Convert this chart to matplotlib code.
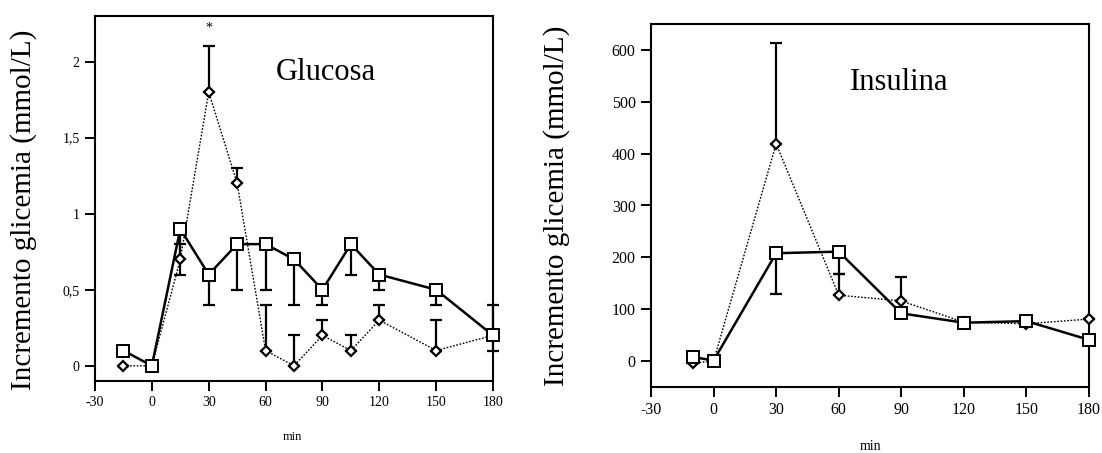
import matplotlib
matplotlib.use("Agg")
import matplotlib.pyplot as plt
from matplotlib.ticker import FuncFormatter

plt.rcParams['font.family'] = ['Liberation Serif', 'DejaVu Serif']
plt.rcParams['axes.unicode_minus'] = False

# Glucosa panel
glu_t = [-15, 0, 15, 30, 45, 60, 75, 90, 105, 120, 150, 180]
glu_sq = [0.1, 0, 0.9, 0.6, 0.8, 0.8, 0.7, 0.5, 0.8, 0.6, 0.5, 0.2]
glu_sq_lo = [0, 0, 0.3, 0.2, 0.3, 0.3, 0.3, 0.1, 0.2, 0.1, 0.1, 0.1]
glu_di = [0, 0, 0.7, 1.8, 1.2, 0.1, 0, 0.2, 0.1, 0.3, 0.1, 0.2]
glu_di_hi = [0, 0, 0.1, 0.3, 0.1, 0.3, 0.2, 0.1, 0.1, 0.1, 0.2, 0.2]

# Insulina panel
ins_t = [-10, 0, 30, 60, 90, 120, 150, 180]
ins_sq = [8, 1, 208, 211, 92, 74, 77, 41]
ins_sq_lo = [0, 0, 78, 44, 0, 0, 0, 0]
ins_di = [-4, 0, 419, 127, 116, 75, 72, 81]
ins_di_hi = [0, 0, 194, 40, 47, 0, 0, 0]

xticks = [-30, 0, 30, 60, 90, 120, 150, 180]
glu_yticks = [0, 0.5, 1, 1.5, 2]
ins_yticks = [0, 100, 200, 300, 400, 500, 600]

W, H = 1102, 453
fig = plt.figure(figsize=(W / 100, H / 100), dpi=100)


def box(l, t, r, b):
    return [l / W, 1 - b / H, (r - l) / W, (b - t) / H]


def panel(ax, t, sq, sq_lo, di, di_hi, lsize):
    zeros = [0] * len(t)
    for y, err in ((sq, [sq_lo, zeros]), (di, [zeros, di_hi])):
        eb = ax.errorbar(t, y, yerr=err, fmt='none', ecolor='black',
                         elinewidth=1.6, capsize=4, capthick=1.6, zorder=2)
        for art in eb.lines[1] + eb.lines[2]:
            art.set_clip_on(False)
    ax.plot(t, di, linestyle=(0, (1.2, 1.2)), color='black', lw=1.0,
            marker='D', ms=5.5, mfc='white', mec='black', mew=1.6,
            zorder=3, clip_on=False)
    ax.plot(t, sq, '-', color='black', lw=1.8,
            marker='s', ms=8.5, mfc='white', mec='black', mew=1.4,
            zorder=4, clip_on=False)
    ax.set_xlim(-30, 180)
    ax.set_xticks(xticks)
    for s in ax.spines.values():
        s.set_linewidth(1.5)
    ax.tick_params(direction='out', length=7, width=1.4, labelsize=lsize, pad=4)


ax1 = fig.add_axes(box(95, 16, 493, 381))
panel(ax1, glu_t, glu_sq, glu_sq_lo, glu_di, glu_di_hi, 10)
ax1.set_ylim(-0.1, 2.3)
ax1.set_yticks(glu_yticks)
ax1.yaxis.set_major_formatter(FuncFormatter(lambda v, p: ('%g' % v).replace('.', ',')))
ax1.text(92, 1.93, 'Glucosa', fontsize=22, ha='center', va='center')
ax1.text(30, 2.22, '*', fontsize=10, ha='center', va='center')

ax2 = fig.add_axes(box(651, 24, 1089, 387))
panel(ax2, ins_t, ins_sq, ins_sq_lo, ins_di, ins_di_hi, 11.5)
ax2.set_ylim(-50, 650)
ax2.set_yticks(ins_yticks)
ax2.text(89, 538, 'Insulina', fontsize=22, ha='center', va='center')

ylab = 'Incremento glicemia (mmol/L)'
fig.text(24 / W, 1 - 210 / H, ylab, rotation=90, fontsize=21, ha='center', va='center')
fig.text(557 / W, 1 - 206 / H, ylab, rotation=90, fontsize=21, ha='center', va='center')
fig.text(292 / W, 1 - 437 / H, 'min', fontsize=9, ha='center', va='center')
fig.text(870 / W, 1 - 447 / H, 'min', fontsize=10, ha='center', va='center')

fig.savefig('out.png', dpi=100)
